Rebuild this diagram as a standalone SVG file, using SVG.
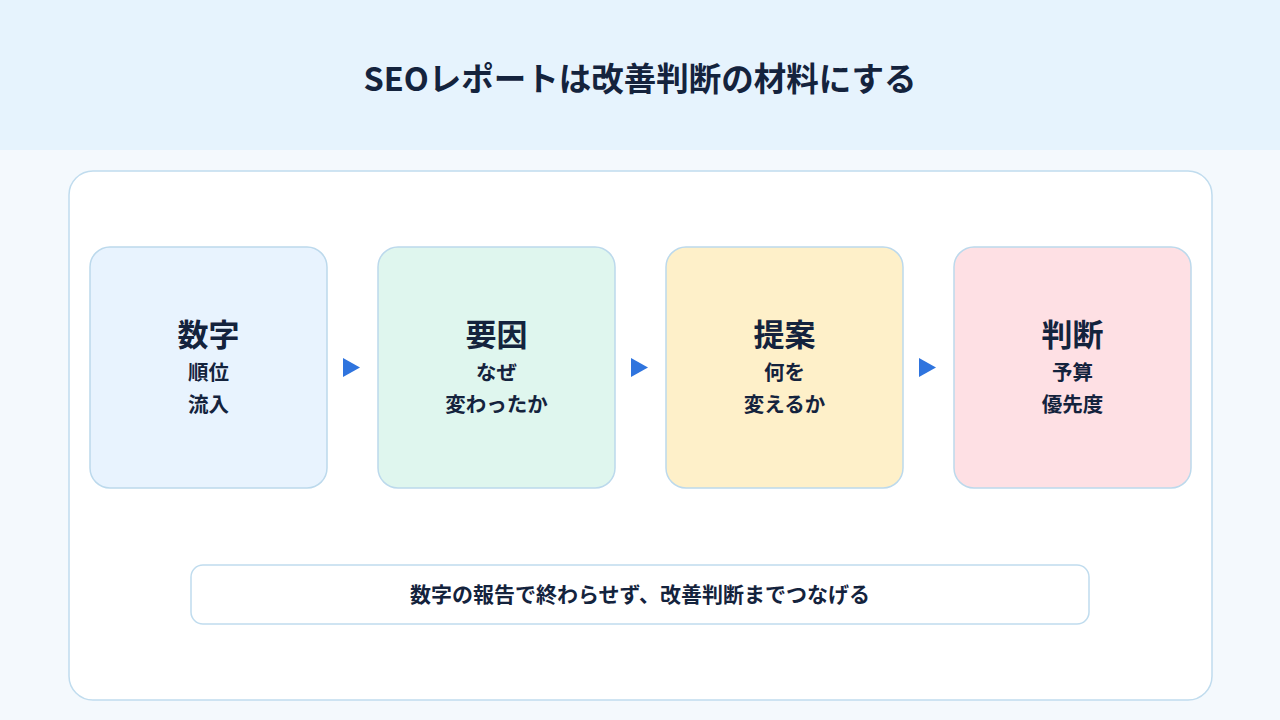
<svg xmlns="http://www.w3.org/2000/svg" width="1280" height="720" viewBox="0 0 1280 720">
<defs>
<style>
.t{font-family:"Noto Sans CJK JP","Noto Sans",sans-serif;font-weight:700;fill:#14233d;text-anchor:middle}
.card{stroke:#bcd9ec;stroke-width:1.5}
.h{font-size:31px}
.s{font-size:20.5px}
</style>
</defs>
<rect x="0" y="0" width="1280" height="720" fill="#f4f9fd"/>
<rect x="0" y="0" width="1280" height="150" fill="#e6f3fd"/>
<text class="t" x="640" y="91" font-size="32.5">SEOレポートは改善判断の材料にする</text>
<rect x="69" y="171" width="1143" height="529" rx="24" fill="#ffffff" stroke="#c0dcee" stroke-width="1.5"/>
<g id="n1">
<rect class="card" x="90" y="247" width="237" height="241" rx="20" fill="#e8f3fe"/>
<text class="t h" x="208.5" y="346">数字</text>
<text class="t s" x="208.5" y="380">順位</text>
<text class="t s" x="208.5" y="412">流入</text>
</g>
<g id="n2">
<rect class="card" x="378" y="247" width="237" height="241" rx="20" fill="#dff6ee"/>
<text class="t h" x="496.5" y="346">要因</text>
<text class="t s" x="496.5" y="380">なぜ</text>
<text class="t s" x="496.5" y="412">変わったか</text>
</g>
<g id="n3">
<rect class="card" x="666" y="247" width="237" height="241" rx="20" fill="#fef0c9"/>
<text class="t h" x="784.5" y="346">提案</text>
<text class="t s" x="784.5" y="380">何を</text>
<text class="t s" x="784.5" y="412">変えるか</text>
</g>
<g id="n4">
<rect class="card" x="954" y="247" width="237" height="241" rx="20" fill="#fee0e4"/>
<text class="t h" x="1072.5" y="346">判断</text>
<text class="t s" x="1072.5" y="380">予算</text>
<text class="t s" x="1072.5" y="412">優先度</text>
</g>
<g id="connectors" fill="#2f74de">
<path d="M343 358 L360 367.5 L343 377 Z"/>
<path d="M631 358 L648 367.5 L631 377 Z"/>
<path d="M919 358 L936 367.5 L919 377 Z"/>
</g>
<g id="note">
<rect x="191" y="565" width="898" height="59" rx="12" fill="#ffffff" stroke="#c0dcee" stroke-width="1.5"/>
<text class="t" x="640" y="602" font-size="21">数字の報告で終わらせず、改善判断までつなげる</text>
</g>
</svg>
